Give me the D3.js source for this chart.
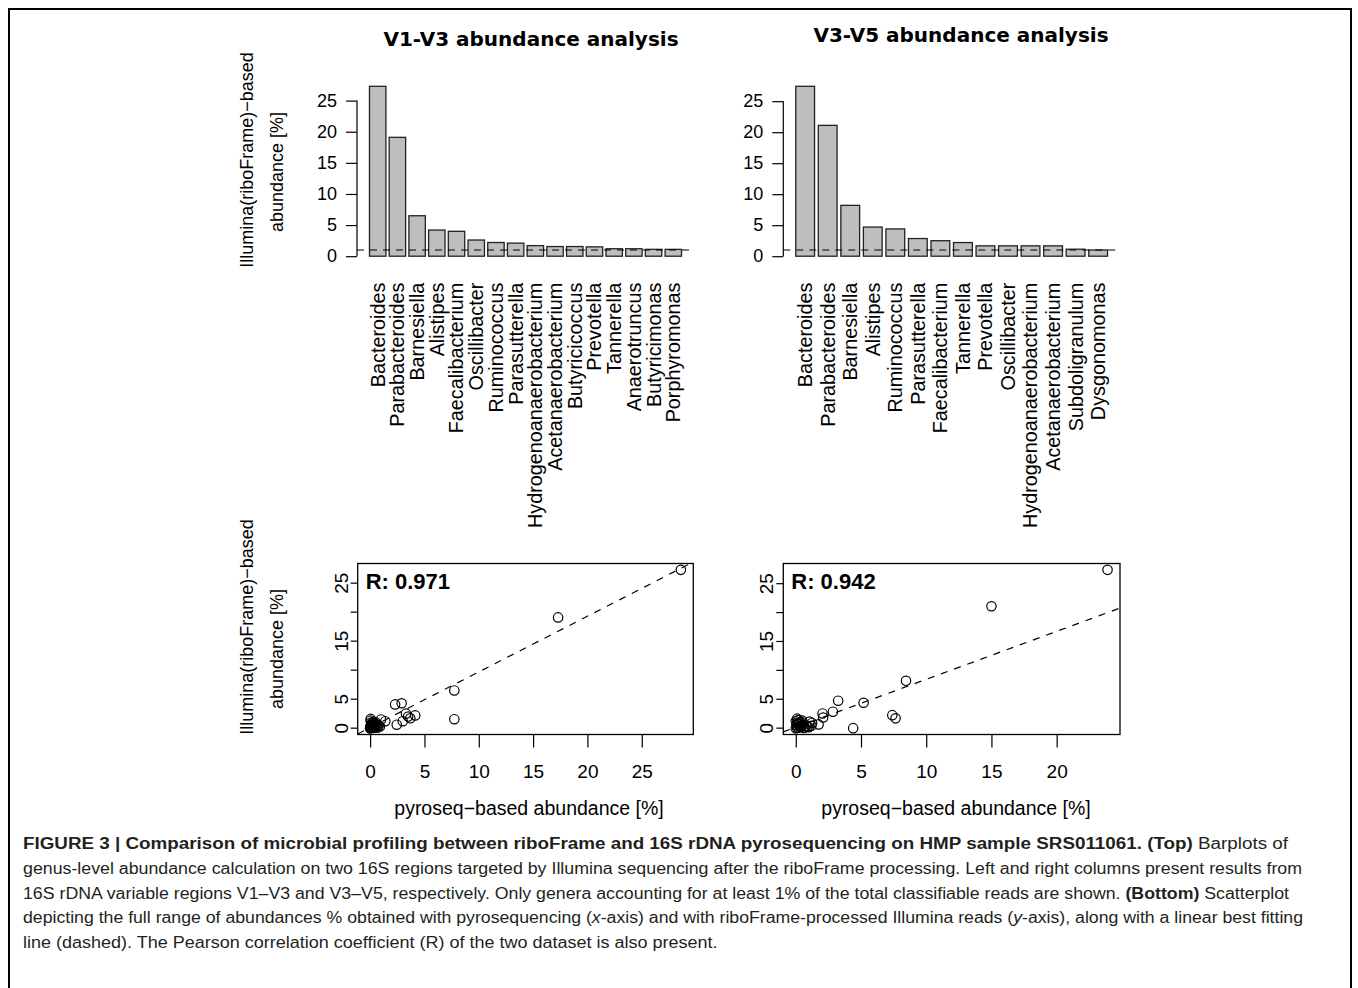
<!DOCTYPE html>
<html>
<head>
<meta charset="utf-8">
<script src="https://cdn.jsdelivr.net/npm/d3@7"></script>
<style>
  body { margin: 0; background: #fff; }
  svg text { font-family: "Liberation Sans", Arial, Helvetica, sans-serif; fill: #000; }
  .title { font-family: "DejaVu Sans", sans-serif !important; font-weight: bold; }
  .caption text { fill: #231f20; }
</style>
</head>
<body>
<svg id="vis" width="1358" height="988"></svg>
<script>
// ---- data ----
const v13Genera = ["Bacteroides", "Parabacteroides", "Barnesiella", "Alistipes", "Faecalibacterium",
  "Oscillibacter", "Ruminococcus", "Parasutterella", "Hydrogenoanaerobacterium", "Acetanaerobacterium",
  "Butyricicoccus", "Prevotella", "Tannerella", "Anaerotruncus", "Butyricimonas", "Porphyromonas"];
const v13Abund = [27.3, 19.1, 6.5, 4.2, 4.0, 2.6, 2.2, 2.1, 1.7, 1.55, 1.55, 1.5, 1.2, 1.2, 1.1, 1.1];

const v35Genera = ["Bacteroides", "Parabacteroides", "Barnesiella", "Alistipes", "Ruminococcus",
  "Parasutterella", "Faecalibacterium", "Tannerella", "Prevotella", "Oscillibacter",
  "Hydrogenoanaerobacterium", "Acetanaerobacterium", "Subdoligranulum", "Dysgonomonas"];
const v35Abund = [27.4, 21.1, 8.2, 4.7, 4.4, 2.85, 2.5, 2.2, 1.67, 1.67, 1.67, 1.67, 1.13, 1.0];

const barTicks = [0, 5, 10, 15, 20, 25];
const threshold = 1;

// scatter: pyroseq (x) vs illumina/riboFrame (y)
const v13Pyro = [28.6, 17.3, 7.75, 2.9, 2.3, 3.3, 4.15, 3.5, 3.7, 7.75, 3.0, 1.0, 0.05, 1.4, 2.45, 0.3,
  0.0, 0.1, 0.2, 0.05, 0.3, 0.5, 0.1, 0.4, 0.6, 0.8, 0.2, 0.0, 0.15, 0.7, 0.35, 0.9, 0.05, 0.5, 0.25, 0.45, 0.1, 0.6, 0.3, 0.0];
const v13Illu = [27.3, 19.1, 6.5, 4.3, 4.1, 2.5, 2.2, 2.0, 1.7, 1.55, 1.2, 1.5, 1.6, 1.2, 0.6, 1.1,
  0.0, 0.05, 0.1, 0.3, 0.2, 0.4, 0.6, 0.8, 0.3, 0.5, 0.9, 0.2, 0.45, 0.1, 0.05, 0.3, 1.3, 1.0, 0.7, 0.15, 0.95, 0.65, 0.5, 0.0];

const v35Pyro = [23.9, 15.0, 8.45, 3.25, 5.2, 2.85, 2.05, 7.4, 7.65, 2.1, 1.05, 0.1, 1.25, 0.5, 4.4, 1.75, 1.2,
  0.0, 0.1, 0.2, 0.3, 0.05, 0.4, 0.6, 0.8, 0.15, 0.0, 0.5, 0.7, 0.25, 0.9, 0.35, 1.0, 0.1, 0.45, 0.6, 0.2, 0.3];
const v35Illu = [27.4, 21.1, 8.2, 4.75, 4.4, 2.85, 2.55, 2.25, 1.7, 1.85, 1.15, 1.65, 0.9, 1.0, 0.0, 0.65, 0.4,
  0.0, 0.05, 0.1, 0.3, 0.5, 0.2, 0.6, 0.4, 0.8, 1.2, 1.3, 0.1, 0.7, 0.25, 1.0, 0.15, 0.9, 0.55, 0.05, 1.4, 0.75];

const v13Fit = { intercept: 0.1, slope: 0.96 };
const v35Fit = { intercept: 0.15, slope: 0.83 };
const v13R = "R: 0.971";
const v35R = "R: 0.942";

const v13XTicks = [0, 5, 10, 15, 20, 25];
const v35XTicks = [0, 5, 10, 15, 20];
const scatterYTicks = [0, 5, 10, 15, 20, 25];
const scatterYLabels = ["0", "5", "", "15", "", "25"];

const yLab = ["Illumina(riboFrame)\u2212based", "abundance [%]"];
const xLab = "pyroseq\u2212based abundance [%]";

const svg = d3.select("#vis");

// outer frame
svg.append("rect")
  .attr("x", 9).attr("y", 9).attr("width", 1342).attr("height", 1000)
  .attr("fill", "none").attr("stroke", "#000").attr("stroke-width", 2);

// R-style 4% range extension
function rRange(vals) {
  const lo = d3.min(vals), hi = d3.max(vals), d = (hi - lo) * 0.04;
  return [lo - d, hi + d];
}

function yLabel(cy1, cy2) {
  [[247, cy1], [277, cy2]].forEach(([cx, cy], i) => {
    svg.append("text")
      .attr("transform", `translate(${cx},${cy}) rotate(-90)`)
      .attr("text-anchor", "middle").attr("dy", "0.35em")
      .attr("font-size", 18).text(yLab[i]);
  });
}

function drawBars(genera, values, left, right, title, titleX, titleY, withYLab) {
  const n = values.length;
  const xs = genera.map((g, i) => 0.2 + i * 1.2);
  const x = d3.scaleLinear().domain(rRange([0.2, 0.2 + (n - 1) * 1.2 + 1])).range([left, right]);
  const y = d3.scaleLinear().domain(rRange([0, d3.max(values)])).range([263, 79.5]);
  const g = svg.append("g");

  g.selectAll("rect.bar").data(values).enter().append("rect")
    .attr("class", "bar")
    .attr("x", (d, i) => x(xs[i]))
    .attr("width", (d, i) => x(xs[i] + 1) - x(xs[i]))
    .attr("y", d => y(d))
    .attr("height", d => y(0) - y(d))
    .attr("fill", "#bebebe").attr("stroke", "#222").attr("stroke-width", 1.3);

  // threshold line
  g.append("line")
    .attr("x1", left).attr("x2", right)
    .attr("y1", y(threshold)).attr("y2", y(threshold))
    .attr("stroke", "#000").attr("stroke-width", 1.2).attr("stroke-dasharray", "7,6");

  // y axis
  const ax = g.append("g").attr("transform", `translate(${left},0)`)
    .call(d3.axisLeft(y).tickValues(barTicks).tickSize(11).tickPadding(9).tickFormat(d3.format("d")));
  ax.select(".domain").remove();
  ax.append("line").attr("y1", y(barTicks[0])).attr("y2", y(barTicks[barTicks.length - 1]))
    .attr("stroke", "#000").attr("stroke-width", 1.2);
  ax.selectAll(".tick line").attr("stroke-width", 1.2);
  ax.selectAll(".tick text").attr("font-size", 18).attr("fill", "#000")
    .style("font-family", '"Liberation Sans", Arial, sans-serif');

  // category labels
  g.selectAll("text.cat").data(genera).enter().append("text")
    .attr("class", "cat")
    .attr("transform", (d, i) => `translate(${x(xs[i] + 0.5)},282.7) rotate(-90)`)
    .attr("text-anchor", "end").attr("dy", "0.35em")
    .attr("font-size", 19.8).text(d => d);

  svg.append("text").attr("class", "title")
    .attr("x", titleX).attr("y", titleY).attr("text-anchor", "middle")
    .attr("font-size", 20).text(title);

  if (withYLab) yLabel(160, 172);
}

function drawScatter(px, py, fit, rText, xTicks, left, right, xLabX, withYLab, id) {
  const top = 563.5, bottom = 734.5;
  const x = d3.scaleLinear().domain(rRange(px)).range([left, right]);
  const y = d3.scaleLinear().domain(rRange(py)).range([bottom, top]);
  const g = svg.append("g");

  g.append("clipPath").attr("id", id).append("rect")
    .attr("x", left).attr("y", top).attr("width", right - left).attr("height", bottom - top);

  const xd = x.domain();
  g.append("line")
    .attr("clip-path", `url(#${id})`)
    .attr("x1", x(xd[0])).attr("x2", x(xd[1]))
    .attr("y1", y(fit.intercept + fit.slope * xd[0]))
    .attr("y2", y(fit.intercept + fit.slope * xd[1]))
    .attr("stroke", "#000").attr("stroke-width", 1.2).attr("stroke-dasharray", "7,7");

  g.selectAll("circle").data(px).enter().append("circle")
    .attr("cx", d => x(d)).attr("cy", (d, i) => y(py[i]))
    .attr("r", 4.7).attr("fill", "none").attr("stroke", "#000").attr("stroke-width", 1.2);

  g.append("rect").attr("x", left).attr("y", top)
    .attr("width", right - left).attr("height", bottom - top)
    .attr("fill", "none").attr("stroke", "#000").attr("stroke-width", 1.3);

  // x axis
  const xa = g.append("g").attr("transform", `translate(0,${bottom})`)
    .call(d3.axisBottom(x).tickValues(xTicks).tickSize(13).tickPadding(17).tickFormat(d3.format("d")));
  xa.select(".domain").remove();
  xa.selectAll(".tick line").attr("stroke-width", 1.2);
  xa.selectAll(".tick text").attr("font-size", 19).attr("fill", "#000")
    .style("font-family", '"Liberation Sans", Arial, sans-serif');

  // y axis, rotated labels like R's las=0
  g.selectAll("line.yt").data(scatterYTicks).enter().append("line")
    .attr("class", "yt")
    .attr("x1", left - 7).attr("x2", left)
    .attr("y1", d => y(d)).attr("y2", d => y(d))
    .attr("stroke", "#000").attr("stroke-width", 1.2);
  g.selectAll("text.yl").data(scatterYTicks).enter().append("text")
    .attr("class", "yl")
    .attr("transform", d => `translate(${left - 10},${y(d)}) rotate(-90)`)
    .attr("text-anchor", "middle").attr("font-size", 19)
    .text((d, i) => scatterYLabels[i]);

  g.append("text").attr("x", left + 8).attr("y", 589)
    .attr("font-size", 22).attr("font-weight", "bold").text(rText);

  g.append("text").attr("x", xLabX).attr("y", 815).attr("text-anchor", "middle")
    .attr("font-size", 19.5).text(xLab);

  if (withYLab) yLabel(627, 649);
}

drawBars(v13Genera, v13Abund, 357, 694, "V1-V3 abundance analysis", 531, 46, true);
drawBars(v35Genera, v35Abund, 783.3, 1120, "V3-V5 abundance analysis", 961, 42, false);
drawScatter(v13Pyro, v13Illu, v13Fit, v13R, v13XTicks, 357.7, 693.3, 529, true, "clip13");
drawScatter(v35Pyro, v35Illu, v35Fit, v35R, v35XTicks, 783.3, 1120, 956, false, "clip35");

// ---- caption ----
const captionLines = [
  [["FIGURE 3 | Comparison of microbial profiling between riboFrame and 16S rDNA pyrosequencing on HMP sample SRS011061. (Top)", "b"], [" Barplots of", ""]],
  [["genus-level abundance calculation on two 16S regions targeted by Illumina sequencing after the riboFrame processing. Left and right columns present results from", ""]],
  [["16S rDNA variable regions V1\u2013V3 and V3\u2013V5, respectively. Only genera accounting for at least 1% of the total classifiable reads are shown. ", ""], ["(Bottom)", "b"], [" Scatterplot", ""]],
  [["depicting the full range of abundances % obtained with pyrosequencing (", ""], ["x", "i"], ["-axis) and with riboFrame-processed Illumina reads (", ""], ["y", "i"], ["-axis), along with a linear best fitting", ""]],
  [["line (dashed). The Pearson correlation coefficient (R) of the two dataset is also present.", ""]]
];
const captionEnds = [1288, 1302, 1289, 1303, null];
const capX = 23, capY0 = 849, capStep = 24.8;

const cap = svg.append("g").attr("class", "caption");
const ks = [];
captionLines.forEach((segs, li) => {
  const t = cap.append("text").attr("x", capX).attr("y", capY0 + li * capStep).attr("font-size", 16);
  segs.forEach(([s, f]) => {
    t.append("tspan").text(s)
      .attr("font-weight", f === "b" ? "bold" : null)
      .attr("font-style", f === "i" ? "italic" : null);
  });
  const w = t.node().getComputedTextLength();
  if (captionEnds[li] !== null) {
    const target = captionEnds[li] - capX;
    ks.push(target / w);
    t.attr("textLength", target).attr("lengthAdjust", "spacingAndGlyphs");
  } else {
    t.attr("textLength", w * d3.mean(ks)).attr("lengthAdjust", "spacingAndGlyphs");
  }
});
</script>
</body>
</html>
